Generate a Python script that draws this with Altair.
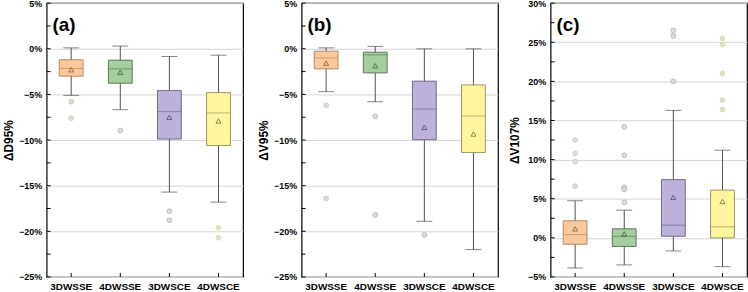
import altair as alt
import pandas as pd

FONT = "Liberation Sans"

groups = ["3DWSSE", "4DWSSE", "3DWSCE", "4DWSCE"]

box_fills = ["#F9C89B", "#A6CDA0", "#BDB1D9", "#FFF59F"]
box_strokes = ["#B58A62", "#587A55", "#6F6690", "#9C9660"]
mean_strokes = ["#6E4A28", "#2F4F2F", "#3D355C", "#5C5A2E"]
outlier_strokes = ["#E2CBB3", "#BBBBBB", "#BDBDBD", "#E2DD9A"]

# ΔD95% (%)
d95_lo = [-5.1, -6.67, -15.7, -16.8]
d95_q1 = [-3.0, -3.77, -9.89, -10.6]
d95_med = [-2.15, -2.2, -6.89, -7.03]
d95_q3 = [-1.2, -1.25, -4.58, -4.8]
d95_hi = [0.1, 0.3, -0.84, -0.7]
d95_mean = [-2.3, -2.57, -7.5, -7.9]
d95_out = [[-5.8, -7.6], [-8.97], [-17.8, -18.8], [-19.6, -20.7]]

# ΔV95% (%)
v95_lo = [-4.7, -5.8, -18.9, -22.0]
v95_q1 = [-2.2, -2.64, -9.96, -11.36]
v95_med = [-1.0, -0.66, -6.6, -7.36]
v95_q3 = [-0.26, -0.37, -3.55, -3.96]
v95_hi = [0.1, 0.26, 0.0, 0.0]
v95_mean = [-1.57, -1.87, -8.6, -9.34]
v95_out = [[-6.2, -16.4], [-7.4, -18.2], [-20.4], []]

# ΔV107% (%)
v107_lo = [-3.85, -3.46, -1.67, -3.68]
v107_q1 = [-0.82, -1.1, 0.2, 0.0]
v107_med = [0.42, 0.2, 1.62, 1.4]
v107_q3 = [2.18, 1.15, 7.44, 6.1]
v107_hi = [4.74, 3.54, 16.3, 11.2]
v107_mean = [1.15, 0.51, 5.17, 4.65]
v107_out = [[12.5, 10.8, 9.74, 6.6], [14.2, 10.55, 6.45, 6.2, 4.53],
            [26.5, 25.8, 20.0], [25.5, 24.7, 21.0, 17.6, 16.4]]

W, H = 198, 276


def panel(tag, title, lo, q1, med, q3, hi, mean, outliers, domain, extent):
    summary = pd.DataFrame(dict(group=groups, lo=lo, q1=q1, med=med,
                                q3=q3, hi=hi, mean=mean))
    out_df = pd.DataFrame([(g, v) for g, vals in zip(groups, outliers) for v in vals],
                          columns=["group", "value"])
    major = list(range(domain[0], domain[1] + 1, 5))
    minor = [domain[0] + 2.5 * i for i in range(int((domain[1] - domain[0]) / 2.5) + 1)]
    ticks_df = pd.DataFrame({"v": minor})

    x = alt.X("group:N", sort=groups,
              scale=alt.Scale(domain=groups, paddingInner=0, paddingOuter=0),
              axis=alt.Axis(title=None, labelAngle=0, labelFontSize=10,
                            labelFontWeight="bold", labelColor="black",
                            labelPadding=5, ticks=False, domain=False, grid=False))
    ysc = alt.Scale(domain=domain, nice=False, zero=False)
    yax = alt.Axis(values=major, labelExpr="format(datum.value, 'd') + '%'",
                   grid=True, gridColor="#D4D4D4", gridWidth=1,
                   ticks=False, tickSize=0, domain=False,
                   labelFontSize=9, labelFontWeight="bold", labelColor="black",
                   labelPadding=5, minExtent=extent, maxExtent=extent,
                   title=title, titleFontSize=12, titleFontWeight="bold",
                   titleColor="black", titlePadding=4)

    def Y(field):
        return alt.Y(field, scale=ysc, axis=yax)

    base = alt.Chart(summary).encode(x=x)

    whisker = base.mark_rule(color="#505050", strokeWidth=1).encode(
        y=Y("lo:Q"), y2="hi:Q")
    cap_lo = base.mark_tick(color="#505050", size=16, thickness=1).encode(y=Y("lo:Q"))
    cap_hi = base.mark_tick(color="#505050", size=16, thickness=1).encode(y=Y("hi:Q"))
    box = base.mark_bar(size=24, strokeWidth=1).encode(
        y=Y("q3:Q"), y2="q1:Q",
        fill=alt.Fill("group:N", scale=alt.Scale(domain=groups, range=box_fills), legend=None),
        stroke=alt.Stroke("group:N", scale=alt.Scale(domain=groups, range=box_strokes), legend=None))
    median = base.mark_tick(size=24, thickness=1).encode(
        y=Y("med:Q"),
        color=alt.Color("group:N", scale=alt.Scale(domain=groups, range=box_strokes), legend=None))
    mean_pt = base.mark_point(shape="triangle-up", filled=False, size=26, strokeWidth=1).encode(
        y=Y("mean:Q"),
        stroke=alt.Stroke("group:N", scale=alt.Scale(domain=groups, range=mean_strokes), legend=None))
    outs = alt.Chart(out_df).mark_circle(size=24, fill="#DCDCDC", opacity=1, strokeWidth=1).encode(
        x=x, y=Y("value:Q"),
        stroke=alt.Stroke("group:N", scale=alt.Scale(domain=groups, range=outlier_strokes), legend=None))

    # inward tick marks on the left and bottom edges
    yticks = alt.Chart(ticks_df).mark_rule(color="black", strokeWidth=1).encode(
        y=Y("v:Q"), x=alt.value(0), x2=alt.value(4))
    xticks = base.mark_rule(color="black", strokeWidth=1).encode(
        y=alt.value(H - 4), y2=alt.value(H))

    label = alt.Chart(pd.DataFrame({"t": [tag]})).mark_text(
        align="left", baseline="alphabetic", fontSize=19, fontWeight="bold",
        font=FONT, color="black").encode(x=alt.value(6), y=alt.value(28), text="t:N")

    return alt.layer(whisker, cap_lo, cap_hi, box, median, mean_pt, outs,
                     yticks, xticks, label).resolve_scale(
        fill="independent", stroke="independent", color="independent"
    ).properties(width=W, height=H)


pa = panel("(a)", "ΔD95%", d95_lo, d95_q1, d95_med, d95_q3, d95_hi, d95_mean, d95_out, [-25, 5], 27)
pb = panel("(b)", "ΔV95%", v95_lo, v95_q1, v95_med, v95_q3, v95_hi, v95_mean, v95_out, [-25, 5], 27)
pc = panel("(c)", "ΔV107%", v107_lo, v107_q1, v107_med, v107_q3, v107_hi, v107_mean, v107_out, [-5, 30], 25)

chart = alt.hconcat(pa, alt.hconcat(pb, pc, spacing=9), spacing=13).properties(
    padding={"left": 2, "top": -3, "right": 0, "bottom": 0},
    background="white",
).configure_view(stroke="black", strokeWidth=1.2).configure_axis(
    labelFont=FONT, titleFont=FONT)

chart.save("out.html", embed_options={"renderer": "svg", "actions": False})
